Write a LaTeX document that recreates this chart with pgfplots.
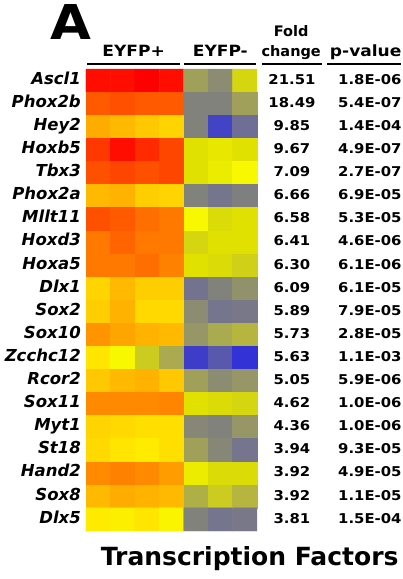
\documentclass[border=0pt]{standalone}
\usepackage{fontspec}
\setmainfont{DejaVu Sans}
\newfontfamily\widefont{DejaVu Sans}[FakeStretch=1.1]
\usepackage{pgfplots}
\usepackage{pgfplotstable}
\pgfplotsset{compat=1.18}

% heat values (scaled 0..50): columns 0-3 EYFP+, 4-6 EYFP-
\pgfplotstableread{
x y c
0 0 49
1 0 49
2 0 50
3 0 49
4 0 13
5 0 11
6 0 18
0 1 43
1 1 44
2 1 43
3 1 43
4 1 10
5 1 10
6 1 13
0 2 34
1 2 32
2 2 30
3 2 28
4 2 10
5 2 2
6 2 6
0 3 46
1 3 49
2 3 47
3 3 45
4 3 19
5 3 19.5
6 3 19
0 4 44
1 4 45
2 4 44
3 4 45
4 4 19
5 4 20
6 4 21
0 5 32
1 5 33
2 5 29
3 5 28
4 5 10
5 5 7.5
6 5 9.5
0 6 44
1 6 43
2 6 41
3 6 40
4 6 21
5 6 18.5
6 6 19
0 7 40
1 7 42
2 7 40
3 7 40
4 7 18
5 7 19
6 7 19
0 8 40
1 8 40
2 8 41
3 8 39
4 8 19
5 8 18.5
6 8 17.5
0 9 28
1 9 32
2 9 29
3 9 29
4 9 7
5 9 10
6 9 11.5
0 10 29
1 10 33
2 10 27
3 10 27
4 10 11
5 10 7.5
6 10 8
0 11 37
1 11 35
2 11 33
3 11 32
4 11 12
5 11 14
6 11 15
0 12 25
1 12 21
2 12 17
3 12 14
4 12 1.5
5 12 4
6 12 0.5
0 13 30
1 13 32
2 13 33
3 13 30
4 13 13
5 13 11
6 13 12
0 14 38
1 14 38
2 14 38
3 14 38.5
4 14 19
5 14 18.5
6 14 18
0 15 28
1 15 27
2 15 26
3 15 26
4 15 10.5
5 15 10
6 15 12
0 16 27
1 16 25
2 16 24
3 16 26
4 16 13
5 16 10.5
6 16 7.5
0 17 38
1 17 39
2 17 38
3 17 36
4 17 20
5 17 18.5
6 17 18.5
0 18 32
1 18 34
2 18 33
3 18 32
4 18 14.5
5 18 17
6 18 15
0 19 24
1 19 23
2 19 25
3 19 22
4 19 10
5 19 7.5
6 19 8
}\heat

\pgfplotstableread{
y fold p
0 21.51 1.8E-06
1 18.49 5.4E-07
2 9.85 1.4E-04
3 9.67 4.9E-07
4 7.09 2.7E-07
5 6.66 6.9E-05
6 6.58 5.3E-05
7 6.41 4.6E-06
8 6.30 6.1E-06
9 6.09 6.1E-05
10 5.89 7.9E-05
11 5.73 2.8E-05
12 5.63 1.1E-03
13 5.05 5.9E-06
14 4.62 1.0E-06
15 4.36 1.0E-06
16 3.94 9.3E-05
17 3.92 4.9E-05
18 3.92 1.1E-05
19 3.81 1.5E-04
}\stats

\begin{document}
\begin{tikzpicture}
\useasboundingbox (-86pt,69pt) rectangle (317pt,-510pt);
\begin{axis}[
    at={(0pt,0pt)}, anchor=north west,
    scale only axis, width=171pt, height=462pt,
    xmin=-0.5, xmax=6.5, ymin=-0.5, ymax=19.5,
    y dir=reverse,
    axis line style={draw=none},
    xtick=\empty,
    ytick={0,...,19},
    yticklabels={Ascl1,Phox2b,Hey2,Hoxb5,Tbx3,Phox2a,Mllt11,Hoxd3,Hoxa5,Dlx1,Sox2,Sox10,Zcchc12,Rcor2,Sox11,Myt1,St18,Hand2,Sox8,Dlx5},
    yticklabel style={font=\fontsize{16.5}{17}\selectfont\bfseries\itshape, anchor=east, text height=0.73em, text depth=0pt, inner sep=0pt, xshift=-5pt},
    major tick length=0pt,
    clip=false,
    colormap={hm}{rgb255(0pt)=(45,45,220); rgb255(6pt)=(110,110,150); rgb255(10pt)=(130,130,125); rgb255(14pt)=(170,170,80); rgb255(19pt)=(225,225,0); rgb255(21pt)=(248,248,0); rgb255(24pt)=(255,235,0); rgb255(30pt)=(255,200,0); rgb255(35pt)=(255,165,0); rgb255(40pt)=(255,120,0); rgb255(45pt)=(255,70,0); rgb255(50pt)=(255,0,0)},
    point meta min=0, point meta max=50,
]
\addplot[matrix plot*, mesh/cols=7, point meta=explicit] table[x=x, y=y, meta=c] {\heat};

\addplot[draw=none, mark=none, nodes near coords, point meta=explicit symbolic,
    nodes near coords align=center,
    every node near coord/.style={font=\widefont\fontsize{13.5}{14}\selectfont\bfseries, anchor=center, text height=0.73em, text depth=0pt, inner sep=0pt}]
    table[x expr=7.93, y=y, meta=fold] {\stats};
\addplot[draw=none, mark=none, nodes near coords, point meta=explicit symbolic,
    nodes near coords align=center,
    every node near coord/.style={font=\widefont\fontsize{13.5}{14}\selectfont\bfseries, anchor=center, text height=0.73em, text depth=0pt, inner sep=0pt}]
    table[x expr=11.12, y=y, meta=p] {\stats};

% header
\draw[line width=2.5pt] (axis cs:-0.46,-0.72) -- (axis cs:3.35,-0.72);
\draw[line width=2.5pt] (axis cs:3.51,-0.72) -- (axis cs:6.46,-0.72);
\draw[line width=2.5pt] (axis cs:6.70,-0.72) -- (axis cs:9.16,-0.72);
\draw[line width=2.5pt] (axis cs:9.36,-0.72) -- (axis cs:12.39,-0.72);
\begin{scope}[every node/.style={font=\widefont\fontsize{15.5}{16}\selectfont\bfseries, inner sep=0pt, anchor=base}]
\node at (axis cs:1.45,-1.02) {EYFP+};
\node at (axis cs:5.0,-1.02) {EYFP-};
\node at (axis cs:10.95,-1.02) {p-value};
\end{scope}
\begin{scope}[every node/.style={font=\fontsize{14.5}{15}\selectfont\bfseries, inner sep=0pt, anchor=base}]
\node at (axis cs:7.9,-1.02) {change};
\node at (axis cs:7.9,-1.92) {Fold};
\end{scope}
\node[font=\widefont\fontsize{48}{48}\selectfont\bfseries, inner sep=0pt, anchor=base west] at (axis cs:-1.97,-1.76) {A};
\node[font=\fontsize{25}{26}\selectfont\bfseries, inner sep=0pt, anchor=base] at (axis cs:6.2,21.0) {Transcription Factors};
\end{axis}
\end{tikzpicture}
\end{document}
